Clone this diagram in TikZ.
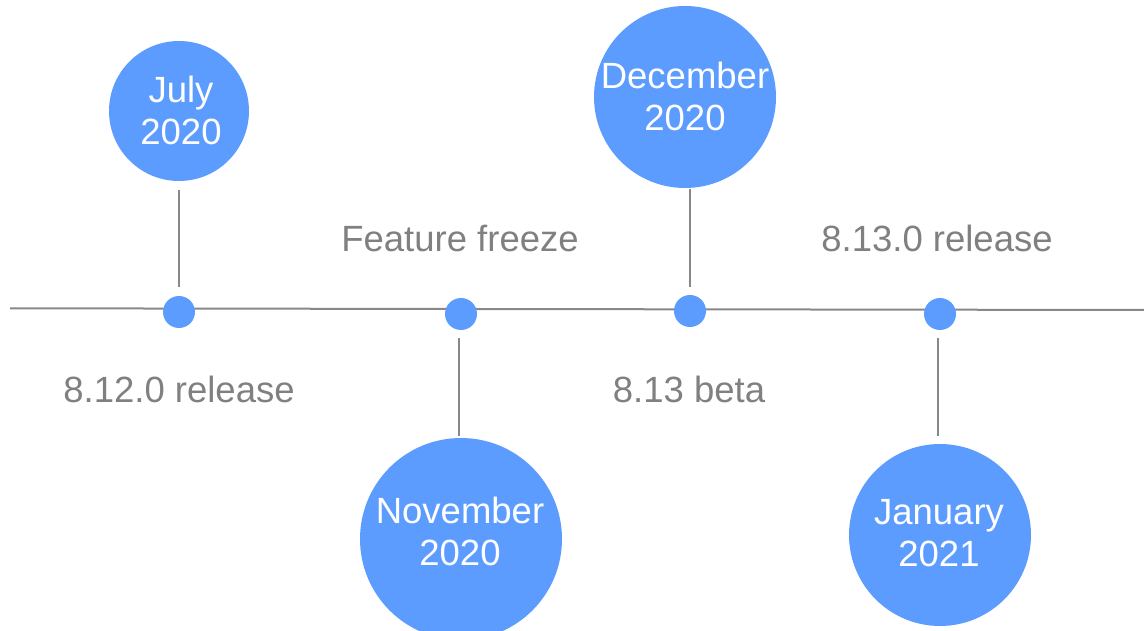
\documentclass[tikz,border=0pt]{standalone}
\usepackage{fontspec}
\setmainfont{Liberation Sans}
\definecolor{bub}{HTML}{5C9CFF}
\definecolor{lbl}{HTML}{808080}
\definecolor{ln}{HTML}{888888}
\begin{document}
\begin{tikzpicture}[x=1pt,y=-1pt,
  bubble/.style={circle,fill=bub,draw=none,inner sep=0pt,minimum size=#1},
  btext/.style={text=white,align=center,font=\fontsize{36.5}{42}\selectfont,inner sep=0pt},
  dot/.style={circle,fill=bub,draw=none,inner sep=0pt,minimum size=32pt},
  lab/.style={text=lbl,font=\fontsize{36.5}{42}\selectfont,anchor=base,inner sep=0pt},
  conn/.style={draw=ln,line width=2pt},
  axis/.style={draw=ln,line width=2pt}]
\useasboundingbox (0,0) rectangle (1144,631);
% timeline
\coordinate (L) at (10,308.3);
\coordinate (R) at (1144,310);
\draw[axis] (L) -- (R);
% dots
\node[dot] (d1) at (179,312) {};
\node[dot] (d2) at (461,314) {};
\node[dot] (d3) at (690,311) {};
\node[dot] (d4) at (940,314) {};
% bubbles
\node[bubble=140pt] (jul) at (179,111) {};
\node[btext] (jult) at (181,110) {July\\2020};
\node[bubble=202pt] (nov) at (461,539) {};
\node[btext] (novt) at (460,531) {November\\2020};
\node[bubble=182pt] (dec) at (685,97) {};
\node[btext] (dect) at (685,96) {December\\2020};
\node[bubble=182pt] (jan) at (940,535) {};
\node[btext] (jant) at (939,533) {January\\2021};
% connectors
\draw[conn,shorten <=9pt,shorten >=9pt] (jul.south) -- (jul.south |- d1.north);
\draw[conn,shorten <=8pt,shorten >=2pt] (d2.south -| 459,0) -- (459,438);
\draw[conn,shorten <=1pt,shorten >=8pt] (dec.south -| d3) -- (d3.north);
\draw[conn,shorten <=8pt,shorten >=8pt] (d4.south -| 938,0) -- (938,444);
% labels
\node[lab] (l1) at (179,402) {8.12.0 release};
\node[lab] (l2) at (460,252) {Feature freeze};
\node[lab] (l3) at (689,402) {8.13 beta};
\node[lab] (l4) at (937,252) {8.13.0 release};
\end{tikzpicture}
\end{document}
